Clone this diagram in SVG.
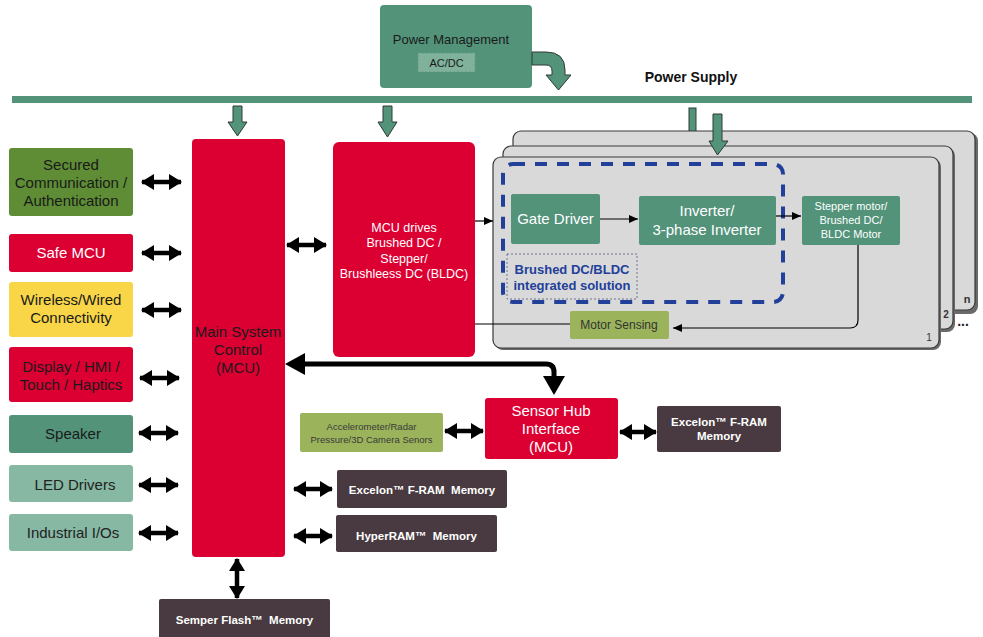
<svg xmlns="http://www.w3.org/2000/svg" width="983" height="637" viewBox="0 0 983 637">
<style>
text{font-family:"Liberation Sans",Arial,sans-serif;text-anchor:middle;white-space:pre}
.red{fill:#dc0032}
.teal{fill:#52937a}
.lteal{fill:#86b8a4}
.olive{fill:#9bb35a}
.dark{fill:#483a40}
.t14{font-size:15px;fill:#1a1a1a}
.w14{font-size:15px;fill:#fff}
.mem{font-size:11.5px;font-weight:bold;fill:#fff}
.dbl{stroke:#000;stroke-width:4.5;fill:none;marker-start:url(#dh);marker-end:url(#dh)}
.thin{stroke:#000;stroke-width:1.2;fill:none}
.garrow{fill:#52937a;stroke:#2f3a35;stroke-width:1}
.card{fill:#d9d9d9;stroke:#3a3a3a;stroke-width:1.2}
.shadow{fill:#6a6a6a}
</style>
<defs>
<marker id="dh" markerUnits="userSpaceOnUse" markerWidth="13" markerHeight="16" viewBox="0 0 13 16" refX="12" refY="8" orient="auto-start-reverse">
<path d="M0,0 L13,8 L0,16 z" fill="#000"/>
</marker>
<marker id="sa" markerUnits="userSpaceOnUse" markerWidth="9" markerHeight="8" viewBox="0 0 9 8" refX="9" refY="4" orient="auto">
<path d="M0,0 L9,4 L0,8 z" fill="#000"/>
</marker>
</defs>

<!-- Power management -->
<g id="power-management">
<rect x="380" y="5" width="152" height="83" rx="4" class="teal"/>
<text x="451" y="44" style="font-size:13px;fill:#1a1a1a">Power Management</text>
<rect x="418" y="53" width="57" height="19" fill="#7fb19b" stroke="#5f9a80" stroke-dasharray="2,2"/>
<text x="446.5" y="67" style="font-size:11px;fill:#1a1a1a">AC/DC</text>
</g>

<g id="power-supply">
<rect x="12" y="96" width="960" height="7" class="teal"/>
<text x="691" y="82" style="font-size:14px;font-weight:bold;fill:#111">Power Supply</text>
</g>

<!-- Motor stack cards -->
<g id="motor-stack">
<rect x="689" y="108" width="7" height="26" class="garrow"/>
<rect x="515" y="133" width="463" height="181" rx="8" class="shadow"/>
<rect x="513" y="131" width="462" height="179" rx="8" class="card"/>
<text x="967" y="303" style="font-size:11px;font-weight:bold;fill:#333">n</text>
<rect x="505" y="148" width="450" height="184" rx="8" class="shadow"/>
<rect x="503" y="146" width="450" height="183" rx="8" class="card"/>
<text x="946" y="318" style="font-size:10px;font-weight:bold;fill:#333">2</text>
<text x="963" y="326" style="font-size:14px;font-weight:bold;fill:#222">...</text>
<rect x="495" y="159" width="446" height="191" rx="8" class="shadow"/>
<rect x="493" y="157" width="446" height="191" rx="8" class="card"/>
<text x="929" y="341" style="font-size:10px;fill:#333">1</text>
<path d="M713,114 H722 V141 H728 L717.5,155 L709,141 H713 Z" class="garrow"/>
<rect x="503" y="164" width="280" height="138" rx="10" fill="none" stroke="#22409a" stroke-width="4" stroke-dasharray="12,10"/>
</g>

<g id="integrated-solution">
<rect x="507" y="254" width="130" height="45" fill="none" stroke="#6f7590" stroke-width="1" stroke-dasharray="2,2"/>
<text x="572" y="274" style="font-size:13px;font-weight:bold;fill:#22409a">Brushed DC/BLDC</text>
<text x="572" y="290" style="font-size:13px;font-weight:bold;fill:#22409a">integrated solution</text>
</g>

<g id="gate-driver">
<rect x="511" y="194" width="89" height="50" rx="2" class="teal"/>
<text x="555.5" y="224" style="font-size:15px;fill:#fff">Gate Driver</text>
</g>
<g id="inverter">
<rect x="639" y="196" width="137" height="49" rx="2" class="teal"/>
<text x="707" y="216" style="font-size:15px;fill:#fff">Inverter/</text>
<text x="707" y="235" style="font-size:15px;fill:#fff">3-phase Inverter</text>
</g>
<g id="motor">
<rect x="802" y="196" width="98" height="49" rx="2" class="teal"/>
<text x="851" y="210" style="font-size:11px;fill:#fff">Stepper motor/</text>
<text x="851" y="224" style="font-size:11px;fill:#fff">Brushed DC/</text>
<text x="851" y="238" style="font-size:11px;fill:#fff">BLDC Motor</text>
</g>
<g id="motor-sensing">
<rect x="570" y="311" width="99" height="28" rx="2" class="olive"/>
<text x="619" y="329" style="font-size:12px;fill:#333">Motor Sensing</text>
</g>

<!-- MCU drives -->
<g id="mcu-drives">
<rect x="333" y="142" width="142" height="215" rx="6" class="red"/>
<text x="404" y="232" style="font-size:12.5px;fill:#fff">MCU drives</text>
<text x="404" y="247" style="font-size:12.5px;fill:#fff">Brushed DC /</text>
<text x="404" y="263" style="font-size:12.5px;fill:#fff">Stepper/</text>
<text x="404" y="278" style="font-size:12.5px;fill:#fff">Brushleess DC (BLDC)</text>
</g>

<!-- Main system control -->
<g id="main-mcu">
<rect x="192" y="139" width="93" height="418" rx="4" class="red"/>
<text x="238" y="337" class="t14">Main System</text>
<text x="238" y="355" class="t14">Control</text>
<text x="238" y="373" class="t14">(MCU)</text>
</g>

<!-- Left peripheral boxes -->
<g id="secured-comm">
<rect x="9" y="148" width="124" height="68" rx="3" fill="#5e8d35"/>
<text x="71" y="170" class="t14">Secured</text>
<text x="71" y="188" class="t14">Communication /</text>
<text x="71" y="206" class="t14">Authentication</text>
</g>
<g id="safe-mcu">
<rect x="9" y="234" width="124" height="38" rx="3" class="red"/>
<text x="71" y="258" class="w14">Safe MCU</text>
</g>
<g id="wireless">
<rect x="9" y="282" width="124" height="55" rx="3" fill="#f8d647"/>
<text x="71" y="305" class="t14">Wireless/Wired</text>
<text x="71" y="323" class="t14">Connectivity</text>
</g>
<g id="display">
<rect x="9" y="347" width="124" height="55" rx="3" class="red"/>
<text x="71" y="372" class="t14">Display / HMI /</text>
<text x="71" y="390" class="t14">Touch / Haptics</text>
</g>
<g id="speaker">
<rect x="9" y="415" width="124" height="38" rx="3" class="teal"/>
<text x="73" y="439" class="t14">Speaker</text>
</g>
<g id="led-drivers">
<rect x="9" y="465" width="124" height="37" rx="3" class="lteal"/>
<text x="75" y="490" class="t14" style="fill:#222">LED Drivers</text>
</g>
<g id="industrial-io">
<rect x="9" y="514" width="124" height="37" rx="3" class="lteal"/>
<text x="73" y="538" class="t14" style="fill:#222">Industrial I/Os</text>
</g>

<!-- Sensor side -->
<g id="sensors">
<rect x="300" y="413" width="143" height="39" rx="2" class="olive"/>
<text x="371.5" y="430" style="font-size:9.5px;fill:#3a3a3a">Accelerometer/Radar</text>
<text x="371.5" y="443" style="font-size:9.5px;fill:#3a3a3a">Pressure/3D Camera Senors</text>
</g>
<g id="sensor-hub">
<rect x="485" y="398" width="133" height="61" rx="3" class="red"/>
<text x="551" y="416" class="w14">Sensor Hub</text>
<text x="551" y="434" class="w14">Interface</text>
<text x="551" y="452" class="w14">(MCU)</text>
</g>
<g id="fram-hub">
<rect x="657" y="406" width="124" height="46" rx="2" class="dark"/>
<text x="719" y="426" class="mem">Excelon™ F-RAM</text>
<text x="719" y="440" class="mem">Memory</text>
</g>
<g id="fram-main">
<rect x="337" y="470" width="170" height="38" rx="2" class="dark"/>
<text x="422" y="494" class="mem">Excelon™ F-RAM  Memory</text>
</g>
<g id="hyperram">
<rect x="336" y="515" width="161" height="37" rx="2" class="dark"/>
<text x="416.5" y="540" class="mem">HyperRAM™  Memory</text>
</g>
<g id="semper-flash">
<rect x="159" y="599" width="171" height="42" rx="2" class="dark"/>
<text x="244.5" y="624" class="mem">Semper Flash™  Memory</text>
</g>

<!-- Connectors -->
<g id="connectors">
<path d="M532,52 H546 Q565,52 565,70 V75 H571 L558.5,90 L546,75 H552 V71 Q552,65 546,65 H532 Z" class="garrow"/>
<path d="M233,106 H242 V122 H247 L237.5,136 L228,122 H233 Z" class="garrow"/>
<path d="M383,106 H392 V122 H397 L387.5,137 L378,122 H383 Z" class="garrow"/>

<line x1="142" y1="182" x2="181" y2="182" class="dbl"/>
<line x1="142" y1="253" x2="181" y2="253" class="dbl"/>
<line x1="142" y1="310" x2="181" y2="310" class="dbl"/>
<line x1="140" y1="378" x2="179" y2="378" class="dbl"/>
<line x1="139" y1="433" x2="178" y2="433" class="dbl"/>
<line x1="139" y1="485" x2="178" y2="485" class="dbl"/>
<line x1="139" y1="533" x2="178" y2="533" class="dbl"/>
<line x1="287" y1="245" x2="326" y2="245" class="dbl"/>
<line x1="294" y1="489" x2="332" y2="489" class="dbl"/>
<line x1="294" y1="536" x2="332" y2="536" class="dbl"/>
<line x1="445" y1="431" x2="483" y2="431" class="dbl"/>
<line x1="620" y1="432" x2="656" y2="432" class="dbl"/>
<line x1="237" y1="559" x2="237" y2="598" class="dbl"/>

<path d="M303,364 H546 Q554,364 554,372 V378" fill="none" stroke="#000" stroke-width="5"/>
<path d="M285,364 L305,353 L305,375 Z" fill="#000"/>
<path d="M543,376 L565,376 L554,395 Z" fill="#000"/>

<line x1="475" y1="221" x2="493" y2="221" class="thin" marker-end="url(#sa)"/>
<line x1="600" y1="219" x2="638" y2="219" class="thin" marker-end="url(#sa)"/>
<line x1="776" y1="216" x2="801" y2="216" class="thin" marker-end="url(#sa)"/>
<path d="M858,245 V320 Q858,328 850,328 H673" class="thin" marker-end="url(#sa)"/>
<line x1="475" y1="324" x2="570" y2="324" class="thin"/>
</g>
</svg>
